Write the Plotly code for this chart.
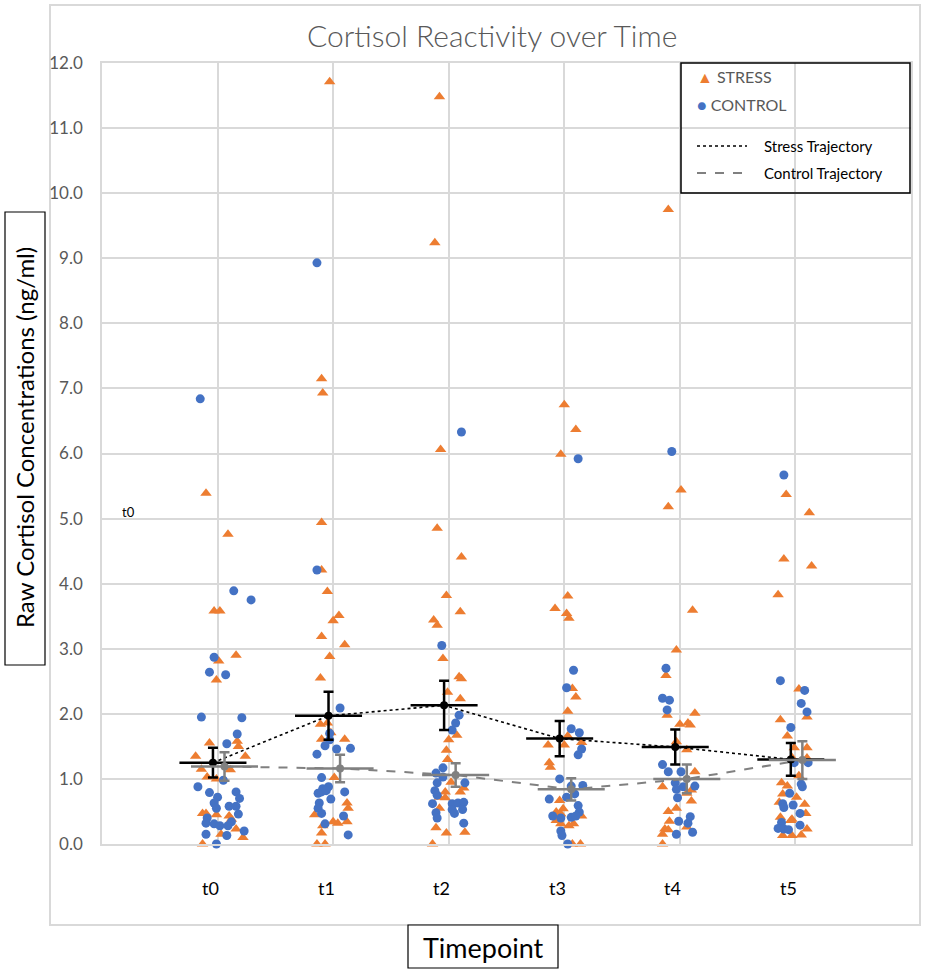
import plotly.graph_objects as go

# ---------------- data ----------------
timepoints = ["t0", "t1", "t2", "t3", "t4", "t5"]

stress_vals = [
    [5.39, 4.76, 3.58, 3.58, 2.81, 2.90, 2.52, 1.58, 1.55, 1.35, 1.35, 1.15, 1.14, 1.03, 1.00, 0.47, 0.47, 0.45, 0.43, 0.38, 0.23, 0.00, 0.10, 0.15, 1.50],
    [11.71, 7.15, 6.93, 4.94, 4.21, 3.88, 3.51, 3.43, 3.19, 3.06, 2.88, 2.55, 1.84, 1.86, 1.71, 1.61, 1.61, 1.02, 0.63, 0.55, 0.45, 0.34, 0.32, 0.34, 0.28, 0.17, 0.00, 0.00],
    [11.48, 9.24, 6.06, 4.85, 4.41, 3.82, 3.57, 3.44, 3.36, 2.85, 2.57, 2.54, 2.33, 2.23, 1.67, 1.60, 1.44, 1.30, 0.95, 0.86, 0.80, 0.72, 0.71, 0.80, 0.55, 0.25, 0.17, 0.18, 0.00],
    [6.75, 6.37, 5.99, 3.81, 3.62, 3.54, 3.47, 2.39, 2.26, 2.04, 1.66, 1.56, 1.52, 1.52, 1.25, 1.18, 0.67, 0.54, 0.49, 0.46, 0.36, 0.31, 0.28, 0.31, 0.43, 0.00, 0.00],
    [9.75, 5.44, 5.18, 3.59, 2.98, 2.59, 1.98, 2.01, 1.84, 1.86, 1.83, 1.57, 1.45, 1.11, 0.88, 0.83, 0.78, 0.66, 0.50, 0.55, 0.35, 0.23, 0.22, 0.15, 0.26, 0.00],
    [5.37, 5.09, 4.38, 4.27, 3.83, 2.38, 1.95, 1.91, 1.66, 1.48, 1.48, 1.33, 1.32, 1.05, 0.94, 0.89, 0.77, 0.72, 0.64, 0.61, 0.47, 0.38, 0.36, 0.41, 0.23, 0.13, 0.13, 0.14],
]
stress_jitter = [
    [-0.10, 0.09, -0.03, 0.02, 0.01, 0.16, -0.01, 0.17, -0.07, -0.19, 0.24, -0.14, 0.11, -0.09, -0.01, -0.13, -0.10, -0.01, 0.10, 0.12, 0.16, -0.13, 0.22, 0.03, 0.18],
    [-0.03, -0.10, -0.09, -0.10, -0.10, -0.05, 0.05, 0.00, -0.10, 0.10, -0.03, -0.11, -0.11, -0.05, -0.02, -0.10, 0.10, 0.01, 0.12, 0.13, -0.16, 0.00, 0.04, 0.12, -0.09, -0.10, -0.14, -0.07],
    [-0.08, -0.12, -0.07, -0.10, 0.11, -0.02, 0.10, -0.13, -0.10, -0.05, 0.09, 0.11, -0.01, 0.10, 0.07, 0.00, -0.02, -0.01, 0.02, 0.13, -0.03, -0.08, -0.03, 0.10, -0.08, -0.11, -0.02, 0.14, -0.14],
    [0.00, 0.10, -0.03, 0.03, -0.08, 0.02, 0.04, 0.07, 0.10, 0.03, 0.03, 0.15, -0.14, 0.00, -0.13, -0.12, -0.04, -0.01, -0.07, -0.03, -0.07, -0.03, 0.04, 0.08, 0.15, 0.07, 0.14],
    [-0.10, 0.01, -0.10, 0.11, -0.03, -0.12, -0.11, 0.13, 0.00, 0.07, 0.09, -0.03, 0.06, 0.13, -0.15, 0.10, 0.06, 0.10, -0.10, -0.03, -0.09, -0.13, -0.10, -0.15, 0.06, -0.15],
    [-0.08, 0.12, -0.10, 0.14, -0.15, 0.03, 0.10, -0.13, -0.07, -0.01, 0.10, -0.03, 0.10, 0.03, -0.12, -0.07, -0.11, 0.01, -0.14, 0.08, 0.09, -0.03, -0.04, -0.13, 0.10, -0.11, -0.03, 0.05],
]

control_vals = [
    [6.84, 3.89, 3.75, 2.87, 2.64, 2.60, 1.95, 1.94, 1.69, 1.54, 0.98, 0.88, 0.79, 0.80, 0.72, 0.70, 0.63, 0.58, 0.58, 0.55, 0.46, 0.40, 0.32, 0.31, 0.34, 0.28, 0.28, 0.15, 0.13, 0.20, 0.00],
    [8.93, 4.21, 2.09, 1.60, 1.51, 1.46, 1.47, 1.38, 1.02, 0.88, 0.85, 0.78, 0.80, 0.82, 0.69, 0.80, 0.63, 0.55, 0.47, 0.43, 0.31, 0.14, 1.70],
    [6.33, 3.05, 1.98, 1.86, 1.75, 1.17, 1.09, 1.03, 0.94, 0.94, 0.82, 0.75, 0.62, 0.62, 0.63, 0.64, 0.53, 0.47, 0.53, 0.48, 0.40, 0.32],
    [5.92, 2.67, 2.40, 1.77, 1.71, 1.46, 1.37, 1.00, 0.89, 0.90, 0.69, 0.72, 0.77, 0.59, 0.49, 0.43, 0.40, 0.41, 0.43, 0.20, 0.13, 0.00],
    [6.03, 2.70, 2.24, 2.21, 2.06, 1.22, 1.11, 1.11, 0.94, 0.88, 0.89, 0.84, 0.71, 0.35, 0.42, 0.32, 0.15, 0.18],
    [5.67, 2.51, 2.36, 2.16, 2.03, 1.79, 1.25, 1.25, 0.92, 0.88, 0.78, 0.62, 0.56, 0.60, 0.47, 0.33, 0.29, 0.24, 0.23, 0.22],
]
control_jitter = [
    [-0.15, 0.14, 0.29, -0.03, -0.07, 0.07, -0.14, 0.21, 0.17, 0.08, 0.05, -0.17, -0.07, 0.16, 0.00, 0.19, -0.03, 0.10, 0.16, -0.01, 0.18, -0.09, -0.10, -0.03, 0.12, 0.02, 0.09, -0.10, 0.08, 0.23, -0.01],
    [-0.14, -0.14, 0.06, -0.03, -0.07, 0.03, 0.15, -0.14, -0.10, -0.04, -0.09, -0.13, -0.10, -0.06, -0.02, 0.10, -0.12, -0.13, -0.10, 0.09, -0.07, 0.13, -0.03],
    [0.11, -0.06, 0.09, 0.06, 0.03, -0.05, -0.11, -0.05, -0.10, 0.14, -0.12, -0.10, -0.14, 0.03, 0.08, 0.13, 0.03, 0.05, 0.12, -0.11, -0.10, 0.13],
    [0.12, 0.08, 0.02, 0.06, 0.13, 0.15, 0.12, -0.04, 0.06, 0.16, -0.13, 0.02, 0.09, 0.12, 0.13, -0.10, -0.03, 0.06, 0.10, -0.03, -0.02, 0.03],
    [-0.07, -0.12, -0.15, -0.09, -0.11, -0.15, -0.10, 0.01, -0.04, 0.03, 0.13, -0.03, -0.02, -0.01, 0.09, 0.07, -0.03, 0.11],
    [-0.10, -0.13, 0.08, 0.05, 0.10, -0.04, 0.11, -0.01, 0.05, 0.06, -0.05, -0.11, -0.10, -0.02, 0.04, -0.12, 0.04, -0.15, -0.10, -0.06],
]

stress_mean = [1.25, 1.97, 2.13, 1.62, 1.49, 1.30]
stress_err = [0.23, 0.37, 0.38, 0.27, 0.27, 0.25]
control_mean = [1.19, 1.16, 1.06, 0.84, 1.00, 1.29]
control_err = [0.22, 0.21, 0.18, 0.17, 0.22, 0.29]
x_err = 0.29

y_ticks = [0, 1, 2, 3, 4, 5, 6, 7, 8, 9, 10, 11, 12]

# ---------------- styling ----------------
ORANGE = "#ED7D31"
BLUE = "#4472C4"
GRID = "#D9D9D9"
GRAYTXT = "#595959"
MEANGRAY = "#808080"
FONT = "Lato"

cat_x = list(range(1, len(timepoints) + 1))
stress_offset = -0.04
control_offset = 0.06

sx, sy, cx, cy = [], [], [], []
for i, c in enumerate(cat_x):
    sx += [c + j for j in stress_jitter[i]]
    sy += stress_vals[i]
    cx += [c + j for j in control_jitter[i]]
    cy += control_vals[i]

fig = go.Figure()
fig.add_trace(go.Scatter(x=sx, y=sy, mode="markers", name="STRESS",
                         marker=dict(symbol="triangle-up", size=10, color=ORANGE),
                         cliponaxis=False, showlegend=False))
fig.add_trace(go.Scatter(x=cx, y=cy, mode="markers", name="CONTROL",
                         marker=dict(symbol="circle", size=9, color=BLUE),
                         cliponaxis=False, showlegend=False))

smx = [c + stress_offset for c in cat_x]
cmx = [c + control_offset for c in cat_x]

fig.add_trace(go.Scatter(x=smx, y=stress_mean, mode="lines", name="Stress Trajectory",
                         line=dict(color="black", width=1.6, dash="dot"), showlegend=False))
fig.add_trace(go.Scatter(x=cmx, y=control_mean, mode="lines", name="Control Trajectory",
                         line=dict(color=MEANGRAY, width=2, dash="dash"), showlegend=False))

fig.add_trace(go.Scatter(x=smx, y=stress_mean, mode="markers", showlegend=False,
                         marker=dict(color="black", size=8),
                         error_y=dict(type="data", array=stress_err, color="black", thickness=2.5, width=5),
                         error_x=dict(type="constant", value=x_err, color="black", thickness=2.5, width=0)))
fig.add_trace(go.Scatter(x=cmx, y=control_mean, mode="markers", showlegend=False,
                         marker=dict(color=MEANGRAY, size=8),
                         error_y=dict(type="data", array=control_err, color=MEANGRAY, thickness=2.5, width=5),
                         error_x=dict(type="constant", value=x_err, color=MEANGRAY, thickness=2.5, width=0)))

L, R, T, B = 102, 16, 63, 130
W, H = 927, 974
pw, ph = W - L - R, H - T - B


def px(xp):
    return (xp - L) / pw


def py(yp):
    return (H - B - yp) / ph


shapes = [
    # outer chart border
    dict(type="rect", xref="paper", yref="paper", x0=px(50), x1=px(920), y0=py(925), y1=py(5),
         line=dict(color=GRID, width=2), layer="below"),
    # y title box
    dict(type="rect", xref="paper", yref="paper", x0=px(5), x1=px(45), y0=py(665), y1=py(212),
         line=dict(color="black", width=1.2), fillcolor="white"),
    # x title box
    dict(type="rect", xref="paper", yref="paper", x0=px(408), x1=px(558), y0=py(968), y1=py(925),
         line=dict(color="black", width=1.2), fillcolor="white"),
    # legend box
    dict(type="rect", xref="paper", yref="paper", x0=px(681), x1=px(910), y0=py(193), y1=py(63),
         line=dict(color="black", width=1.5)),
    # legend line samples
    dict(type="line", xref="paper", yref="paper", x0=px(697), x1=px(747), y0=py(146), y1=py(146),
         line=dict(color="black", width=1.6, dash="dot")),
    dict(type="line", xref="paper", yref="paper", x0=px(697), x1=px(747), y0=py(173), y1=py(173),
         line=dict(color=MEANGRAY, width=2, dash="dash")),
]

annotations = [
    dict(text="Cortisol Reactivity over Time", xref="paper", yref="paper", x=px(492), y=py(35),
         showarrow=False, font=dict(family=FONT, size=30, color=GRAYTXT, weight=300),
         xanchor="center", yanchor="middle"),
    dict(text="Raw Cortisol Concentrations (ng/ml)", xref="paper", yref="paper", x=px(25), y=py(438),
         textangle=-90, showarrow=False, font=dict(family=FONT, size=24, color="black"),
         xanchor="center", yanchor="middle"),
    dict(text="Timepoint", xref="paper", yref="paper", x=px(483), y=py(947),
         showarrow=False, font=dict(family=FONT, size=27, color="black"), xanchor="center", yanchor="middle"),
    dict(text="t0", xref="paper", yref="paper", x=px(120), y=py(512),
         showarrow=False, font=dict(family=FONT, size=13, color="black"), xanchor="left", yanchor="middle"),
    # legend texts
    dict(text="<span style='color:%s'>▲</span> STRESS" % ORANGE, xref="paper", yref="paper", x=px(695), y=py(77),
         showarrow=False, font=dict(family=FONT, size=16, color=GRAYTXT), xanchor="left", yanchor="middle"),
    dict(text="<span style='color:%s'>●</span> CONTROL" % BLUE, xref="paper", yref="paper", x=px(695), y=py(105),
         showarrow=False, font=dict(family=FONT, size=16, color=GRAYTXT), xanchor="left", yanchor="middle"),
    dict(text="Stress Trajectory", xref="paper", yref="paper", x=px(762), y=py(146),
         showarrow=False, font=dict(family=FONT, size=15, color="black"), xanchor="left", yanchor="middle"),
    dict(text="Control Trajectory", xref="paper", yref="paper", x=px(762), y=py(173),
         showarrow=False, font=dict(family=FONT, size=15, color="black"), xanchor="left", yanchor="middle"),
]
# x tick labels (slightly left of gridlines, as in the source)
for c, lab in zip(cat_x, timepoints):
    annotations.append(dict(text=lab, xref="x", yref="paper", x=c - 0.06, y=py(888),
                            showarrow=False, font=dict(family=FONT, size=18, color="black"),
                            xanchor="center", yanchor="middle"))

fig.update_layout(
    width=W, height=H,
    margin=dict(l=L, r=R, t=T, b=B),
    paper_bgcolor="white", plot_bgcolor="white",
    showlegend=False,
    shapes=shapes, annotations=annotations,
    font=dict(family=FONT),
)
fig.update_xaxes(range=[0, len(timepoints) + 1], tickvals=cat_x, showticklabels=False,
                 showgrid=True, gridcolor=GRID, gridwidth=1.5, zeroline=False,
                 showline=True, mirror=True, linecolor=GRID, linewidth=1.5)
fig.update_yaxes(range=[0, 12], tickvals=y_ticks, tickformat=".1f",
                 tickfont=dict(family=FONT, size=17, color=GRAYTXT), ticklabelstandoff=14,
                 showgrid=True, gridcolor=GRID, gridwidth=1.5, zeroline=False,
                 showline=True, mirror=True, linecolor=GRID, linewidth=1.5)

fig.write_html("out.html", config={"displayModeBar": False},
               post_script="document.body.style.margin='0';document.body.style.overflow='hidden';")
